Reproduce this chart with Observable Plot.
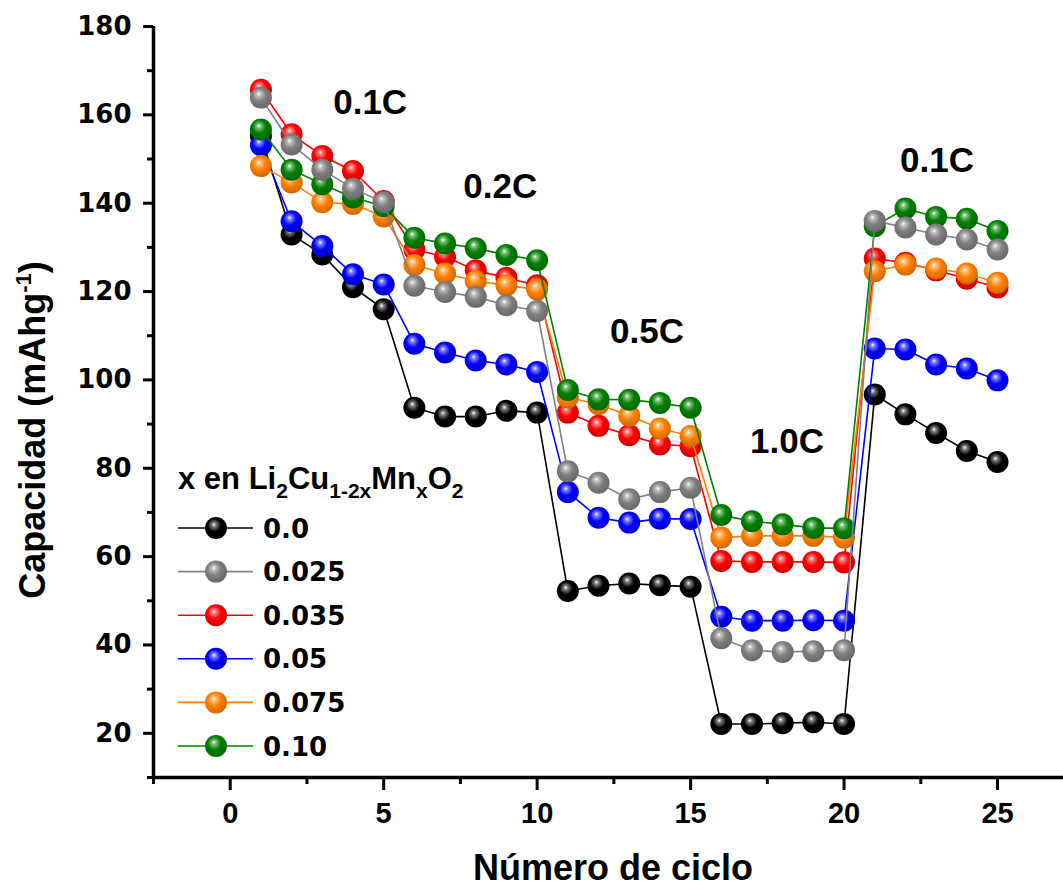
<!DOCTYPE html>
<html><head><meta charset="utf-8">
<script src="https://cdn.jsdelivr.net/npm/d3@7"></script>
<script src="https://cdn.jsdelivr.net/npm/@observablehq/plot@0.6"></script>
<style>
body{margin:0;background:#fff;}
#chart{position:relative;width:1063px;height:894px;}
</style></head><body><div id="chart"></div>
<script>
const cycles = [1,2,3,4,5,6,7,8,9,10,11,12,13,14,15,16,17,18,19,20,21,22,23,24,25];
const seriesNames = ["0.0","0.025","0.035","0.05","0.075","0.10"];
const seriesColors = ["#000000","#808080","#ff0000","#0000ff","#ff8000","#008000"];
const cap_000  = [155.2,132.9,128.4,121.0,116.0, 93.7,91.7,91.7,93.0,92.6, 52.2,53.4,53.9,53.5,53.2, 22.1,22.1,22.3,22.5,22.1, 96.7,92.2,88.0,83.9,81.4];
const cap_0025 = [163.9,153.3,147.6,143.3,140.2, 121.3,119.9,118.8,116.9,115.6, 79.3,76.7,73.0,74.6,75.6, 41.5,38.8,38.4,38.6,38.8, 136.0,134.5,132.9,131.8,129.5];
const cap_0035 = [165.7,155.6,150.7,147.3,140.5, 129.5,127.9,124.8,123.1,121.4, 92.6,89.6,87.5,85.4,85.0, 59.0,58.8,58.8,58.8,58.7, 127.5,126.5,124.8,122.9,120.9];
const cap_005  = [153.1,135.9,130.3,123.9,121.6, 108.2,106.2,104.4,103.5,101.8, 74.6,68.8,67.7,68.6,68.5, 46.4,45.5,45.5,45.6,45.5, 107.1,106.9,103.5,102.6,99.9];
const cap_0075 = [148.4,144.7,140.2,139.8,137.0, 126.0,124.1,122.4,121.4,120.5, 96.0,94.5,91.9,89.0,87.3, 64.3,64.7,64.7,64.7,64.3, 124.6,126.1,125.2,124.1,122.0];
const cap_010  = [156.7,147.6,144.3,141.3,139.3, 132.2,130.9,129.8,128.3,127.1, 97.7,95.6,95.5,94.8,93.7, 69.4,68.0,67.3,66.5,66.4, 134.8,138.8,136.9,136.5,133.7];
const seriesValues = [cap_000, cap_0025, cap_0035, cap_005, cap_0075, cap_010];
const drawOrder = [0,2,3,4,5,1];
const rateLabels = ["0.1C","0.2C","0.5C","1.0C","0.1C"];
const rateX = [4.56, 8.8, 13.58, 18.14, 23.03];
const rateY = [162.8, 143.8, 110.8, 85.9, 149.5];
const xTicks = [0,5,10,15,20,25];
const xMinor = [-2.5,2.5,7.5,12.5,17.5,22.5];
const yTicks = [20,40,60,80,100,120,140,160,180];
const yMinor = [10,30,50,70,90,110,130,150,170];
const xTitle = "Número de ciclo";
const yTitle = "Capacidad (mAhg";

const W = 1063, H = 894;
const tickFont = {fontFamily: "DejaVu Sans", fontWeight: "bold", fontSize: 26};

const marks = [];
marks.push(Plot.axisY({ticks: yMinor, tickSize: 6, strokeWidth: 3, tickFormat: () => "", label: null}));
marks.push(Plot.axisY({ticks: yTicks, tickSize: 10, tickPadding: 12, strokeWidth: 3, label: null, ...tickFont}));
marks.push(Plot.axisX({ticks: xMinor, tickSize: 7, strokeWidth: 3, tickFormat: () => "", label: null}));
marks.push(Plot.axisX({ticks: xTicks, tickSize: 13, tickPadding: 12, strokeWidth: 3, label: null,
  fontFamily: "Liberation Sans", fontWeight: "bold", fontSize: 29}));
marks.push(Plot.ruleY([10], {strokeWidth: 3.5, stroke: "#000"}));
marks.push(Plot.ruleX([-2.5], {strokeWidth: 3.5, stroke: "#000"}));

for (const i of drawOrder) {
  const data = cycles.map((c, k) => ({x: c, y: seriesValues[i][k]}));
  marks.push(Plot.line(data, {x: "x", y: "y", stroke: seriesColors[i], strokeWidth: 1.6}));
  marks.push(Plot.dot(data, {x: "x", y: "y", r: 11, fill: `url(#sph${i})`, stroke: "none"}));
}
const rateData = rateLabels.map((t, k) => ({t, x: rateX[k], y: rateY[k]}));
marks.push(Plot.text(rateData, {x: "x", y: "y", text: "t", fontFamily: "Liberation Sans", fontWeight: "bold", fontSize: 35, fill: "#000"}));

const plot = Plot.plot({
  width: W, height: H,
  marginLeft: 153, marginRight: 0, marginTop: 26, marginBottom: 117,
  x: {domain: [-2.5, 27.15]},
  y: {domain: [10, 180]},
  style: {background: "#fff", color: "#000", overflow: "visible"},
  marks
});
document.getElementById("chart").appendChild(plot);

const svg = d3.select(plot);
const defs = svg.insert("defs", ":first-child");
seriesColors.forEach((c, i) => {
  const g = defs.append("radialGradient").attr("id", "sph" + i)
    .attr("cx", "0.45").attr("cy", "0.42").attr("r", "0.6").attr("fx", "0.4").attr("fy", "0.33");
  g.append("stop").attr("offset", "0").attr("stop-color", "#ffffff");
  g.append("stop").attr("offset", "0.16").attr("stop-color", d3.interpolateRgb(c, "#fff")(0.5));
  g.append("stop").attr("offset", "0.5").attr("stop-color", c);
  g.append("stop").attr("offset", "1").attr("stop-color", d3.interpolateRgb(c, "#000")(0.2));
});

// axis titles
svg.append("text").attr("x", 613).attr("y", 880).attr("text-anchor", "middle")
  .attr("font-family", "Liberation Sans").attr("font-weight", "bold").attr("font-size", 36).text(xTitle);
const yt = svg.append("text").attr("transform", "translate(45,430) rotate(-90)").attr("text-anchor", "middle")
  .attr("font-family", "Liberation Sans").attr("font-weight", "bold").attr("font-size", 36);
yt.append("tspan").text(yTitle);
yt.append("tspan").attr("font-size", 22).attr("dy", -14).text("-1");
yt.append("tspan").attr("dy", 14).text(")");

// legend
const lg = svg.append("g").attr("font-family", "Liberation Sans").attr("font-weight", "bold").attr("text-anchor", "start");
const lt = lg.append("text").attr("x", 178).attr("y", 489).attr("font-size", 31).attr("text-anchor", "start");
const parts = [["x en Li",0],["2",1],["Cu",0],["1-2x",1],["Mn",0],["x",1],["O",0],["2",1]];
let cur = 0;
for (const [s, sub] of parts) {
  const dy = sub ? 9 - cur : -cur;
  lt.append("tspan").attr("dy", dy).attr("font-size", sub ? 21 : 31).text(s);
  cur = sub ? 9 : 0;
}
seriesNames.forEach((n, i) => {
  const y = 528 + i * 43.6;
  lg.append("line").attr("x1", 178).attr("x2", 253).attr("y1", y).attr("y2", y)
    .attr("stroke", seriesColors[i]).attr("stroke-width", 1.6);
  lg.append("circle").attr("cx", 216).attr("cy", y).attr("r", 11).attr("fill", `url(#sph${i})`);
  lg.append("text").attr("x", 263).attr("y", y + 9.5).attr("font-family", "DejaVu Sans")
    .attr("text-anchor", "start").attr("font-size", 26).text(n);
});
</script></body></html>
